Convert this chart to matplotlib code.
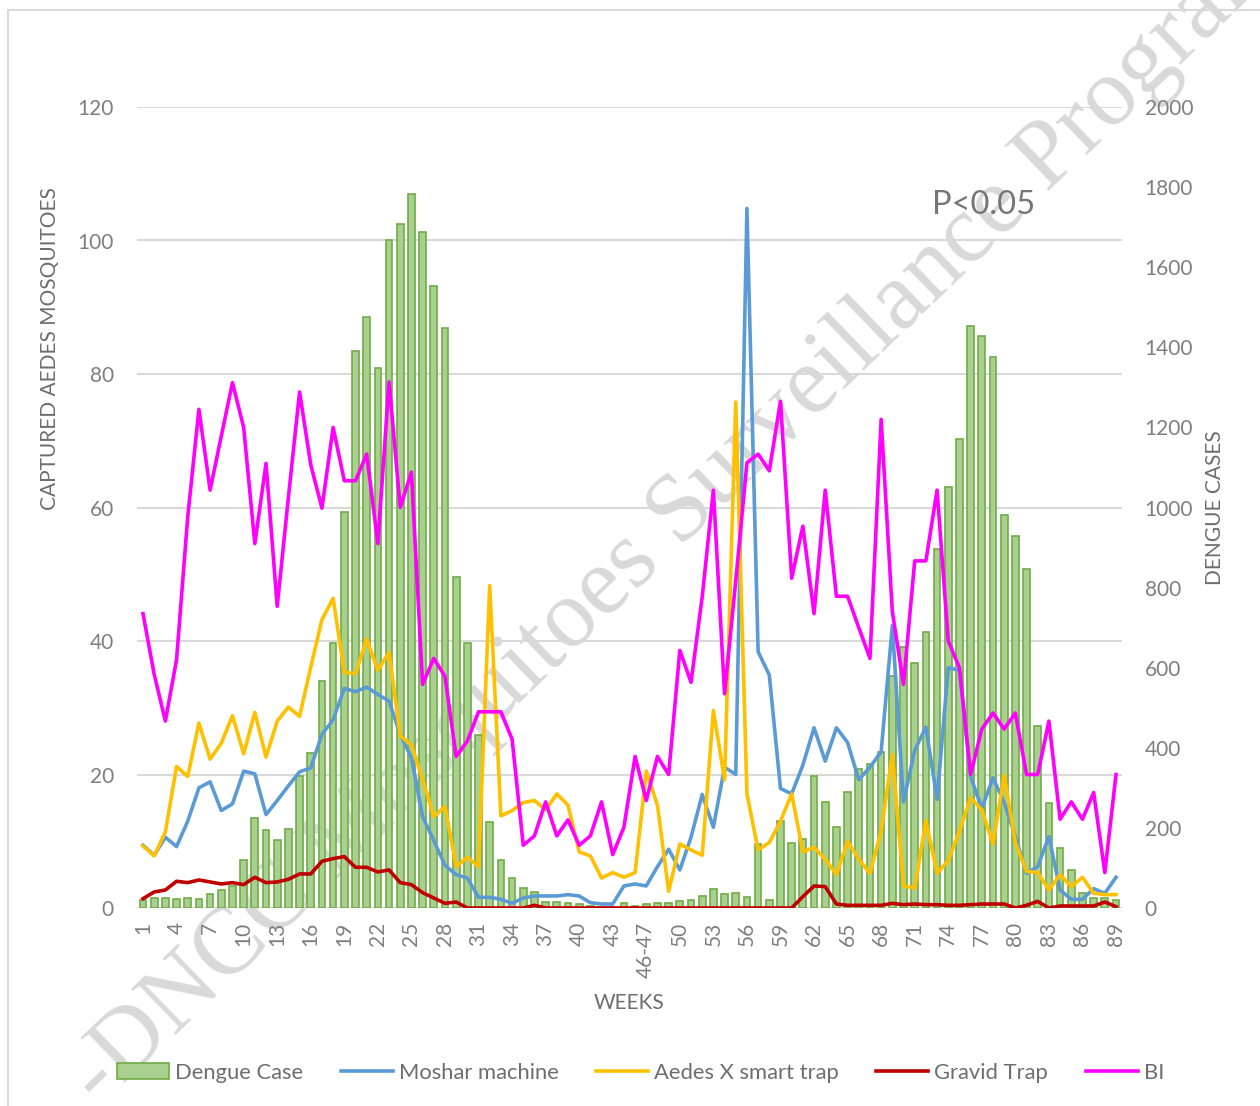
import matplotlib
matplotlib.use("Agg")
import matplotlib.pyplot as plt
from matplotlib.patches import Rectangle
import numpy as np

# week categories (46-47 merged into one)
weeks = [str(w) for w in range(1, 46)] + ['46-47'] + [str(w) for w in range(48, 90)]

# dengue cases (right axis)
dengue = [20, 25, 25, 22, 25, 23, 35, 45, 56, 119, 224, 195, 170, 197, 329, 387, 567, 661, 990,
          1391, 1476, 1348, 1667, 1708, 1782, 1688, 1552, 1448, 826, 662, 432, 215, 120, 74, 51, 40,
          14, 14, 13, 11, 5, 3, 2,
          12, 6, 9, 12, 12, 18, 19, 31, 48, 34, 37, 27, 159, 20, 218, 163, 173, 329, 265, 202, 289,
          348, 360, 389, 579, 652, 611, 690, 896, 1051, 1171, 1454, 1428, 1375, 982, 929, 846, 454,
          261, 150, 96, 37, 25, 25, 20]

# mosquito captures (left axis)
moshar = [9.4, 7.9, 10.6, 9.2, 13.0, 18.0, 18.9, 14.6, 15.6, 20.5, 20.1, 14.0, 16.1, 18.3, 20.4,
          21.0, 26.0, 28.2, 32.9, 32.4, 33.1, 32.0,
          31.0, 26.0, 22.5, 13.7, 10.1, 6.4, 5.0, 4.5, 1.6, 1.6, 1.3, 0.7, 1.5, 1.8, 1.8, 1.8, 2.0,
          1.8, 0.8, 0.6, 0.6,
          3.3, 3.6, 3.3, 6.2, 8.8, 5.7, 10.6, 17.0, 12.1, 21.1, 20.0, 104.8, 38.4, 34.9, 17.9, 17.1,
          21.4, 27.0, 22.0, 27.0, 24.8, 19.2,
          21.1, 23.4, 42.3, 15.9, 23.6, 27.1, 16.3, 36.0, 35.6, 19.7, 14.9, 19.5, 15.8, 10.7, 5.2,
          6.2, 10.7, 2.7, 1.3, 1.3, 2.9, 2.2, 4.6]

aedes_x = [9.3, 7.8, 11.4, 21.2, 19.7, 27.7, 22.3, 24.7, 28.8, 23.1, 29.3, 22.6, 28.0, 30.1, 28.7,
           36.1, 43.2, 46.4, 35.3, 35.1, 40.3, 35.6,
           38.3, 25.8, 24.4, 19.3, 13.7, 15.2, 6.2, 7.6, 6.2, 48.3, 13.8, 14.6, 15.8, 16.1, 14.7,
           17.1, 15.4, 8.4, 7.8, 4.5, 5.3,
           4.6, 5.3, 20.5, 15.4, 2.5, 9.6, 8.7, 7.9, 29.6, 19.2, 75.8, 17.1, 8.7, 9.8, 13.0, 17.1,
           8.4, 9.1, 7.3, 5.0, 10.0, 7.3,
           5.2, 11.5, 23.0, 3.3, 3.0, 13.1, 5.2, 7.1, 11.5, 16.5, 14.7, 9.6, 19.9, 9.8, 5.5, 5.3,
           2.7, 5.0, 3.2, 4.6, 2.2, 2.0, 2.0]

gravid = [1.4, 2.4, 2.7, 4.0, 3.8, 4.2, 3.9, 3.6, 3.8, 3.5, 4.6, 3.8, 3.9, 4.3, 5.1, 5.1, 7.0, 7.4,
          7.7, 6.1, 6.1, 5.4,
          5.7, 3.8, 3.5, 2.3, 1.5, 0.7, 0.9, 0, 0, 0, 0, 0, 0, 0.4, 0, 0, 0, 0, 0, 0, 0,
          0, 0, 0, 0, 0, 0, 0, 0, 0, 0, 0, 0, 0, 0, 0, 0, 1.7, 3.3, 3.2, 0.6, 0.4, 0.4,
          0.4, 0.4, 0.7, 0.5, 0.6, 0.5, 0.5, 0.4, 0.4, 0.5, 0.6, 0.6, 0.6, 0.0, 0.4, 1.0, 0.0,
          0.3, 0.3, 0.3, 0.3, 0.9, 0.2]

bi = [44.1, 35.0, 28.0, 37.2, 58.6, 74.7, 62.6, 70.7, 78.7, 72.0, 54.6, 66.6, 45.2, 61.5, 77.3,
      66.4, 59.9, 72.0, 64.0, 64.0, 68.0, 54.6,
      78.8, 60.0, 65.3, 33.5, 37.4, 34.7, 22.7, 25.0, 29.4, 29.4, 29.4, 25.3, 9.4, 10.8, 15.9,
      10.8, 13.2, 9.4, 10.8, 15.9, 8.0,
      12.1, 22.7, 16.1, 22.7, 20.0, 38.6, 33.8, 46.6, 62.6, 32.1, 49.0, 66.7, 68.0, 65.5, 75.9,
      49.4, 57.2, 44.1, 62.6, 46.7, 46.7, 42.0,
      37.4, 73.2, 44.4, 33.5, 52.0, 52.0, 62.6, 40.0, 36.0, 20.0, 26.8, 29.2, 26.8, 29.2, 20.0,
      20.0, 28.0, 13.3, 15.9, 13.3, 17.3, 5.3, 20.0]

left_ticks = [0, 20, 40, 60, 80, 100, 120]
right_ticks = [0, 200, 400, 600, 800, 1000, 1200, 1400, 1600, 1800, 2000]

W, H = 1260, 1106
fig = plt.figure(figsize=(W / 100, H / 100), dpi=100)
fig.patch.set_facecolor('white')

FONT = 'Lato'
tick_c = '#7F7F7F'
text_c = '#6E6E6E'

# watermark behind the chart
fig.text(100 / W, 1 - 1108 / H, '-DNCC Mosquitoes Surveillance Program',
         family='Liberation Serif', fontsize=70, color='#D9D9D9', rotation=44,
         rotation_mode='anchor', ha='left', va='baseline', zorder=-5)

# thin outer frame
fig.add_artist(Rectangle((8 / W, -1), 2, 1 + (1 - 10 / H), fill=False,
                         edgecolor='#D9D9D9', lw=1.5, transform=fig.transFigure))

x0, x1 = 137.4, 1121.6
y0, y1 = 107, 908
ax_b = fig.add_axes([x0 / W, 1 - y1 / H, (x1 - x0) / W, (y1 - y0) / H])
ax_b.set_facecolor('none')
ax_l = ax_b.twinx()

x = np.arange(len(weeks))

# gridlines follow the left axis scale
for v in left_ticks:
    ax_b.axhline(v * 2000 / 120, color='#D9D9D9', lw=1.5, zorder=0)

bars = ax_b.bar(x, dengue, width=0.6, color='#A9D08E', edgecolor='#70AD47',
                lw=1.2, zorder=2, label='Dengue Case')
ax_b.set_ylim(0, 2000)
ax_b.set_xlim(-0.5, len(weeks) - 0.5)
ax_b.yaxis.tick_right()
ax_b.set_yticks(right_ticks)
ax_b.set_yticklabels([str(t) for t in right_ticks], family=FONT)
ax_b.tick_params(axis='y', length=0, pad=16.5, labelsize=15, colors=tick_c)
ax_b.set_xticks(x[::3])
ax_b.set_xticklabels(weeks[::3], rotation=90, family=FONT)
ax_b.tick_params(axis='x', length=0, pad=10, labelsize=15, colors=tick_c)

lw = 2.6
l1, = ax_l.plot(x, moshar, color='#5B9BD5', lw=lw, label='Moshar machine')
l2, = ax_l.plot(x, aedes_x, color='#FFC000', lw=lw, label='Aedes X smart trap')
l3, = ax_l.plot(x, gravid, color='#C00000', lw=lw, label='Gravid Trap')
l4, = ax_l.plot(x, bi, color='#FF00FF', lw=lw, label='BI')
ax_l.set_ylim(0, 120)
ax_l.yaxis.tick_left()
ax_l.set_yticks(left_ticks)
ax_l.set_yticklabels([str(t) for t in left_ticks], family=FONT)
ax_l.tick_params(axis='y', length=0, pad=17, labelsize=15, colors=tick_c)

for a in (ax_b, ax_l):
    for s in a.spines.values():
        s.set_visible(False)

# titles
fig.text(50 / W, 1 - 349 / H, 'CAPTURED AEDES MOSQUITOES', rotation=90, family=FONT,
         fontsize=15, color=text_c, ha='center', va='center')
fig.text(1215 / W, 1 - 508 / H, 'DENGUE CASES', rotation=90, family=FONT,
         fontsize=15, color=text_c, ha='center', va='center')
fig.text(629 / W, 1 - 1003 / H, 'WEEKS', family=FONT, fontsize=15, color=text_c,
         ha='center', va='center')
fig.text(984 / W, 1 - 205 / H, 'P<0.05', family=FONT, fontsize=23.5, color='#767676',
         ha='center', va='center')

fig.legend([bars, l1, l2, l3, l4],
           ['Dengue Case', 'Moshar machine', 'Aedes X smart trap', 'Gravid Trap', 'BI'],
           loc='center left', bbox_to_anchor=(106 / W, 1 - 1073 / H), ncol=5,
           frameon=False, borderpad=0, handlelength=2.38, handleheight=0.75,
           handletextpad=0.27, columnspacing=1.7,
           prop={'family': FONT, 'size': 15.8}, labelcolor=text_c)

fig.savefig('out.png', dpi=100)
